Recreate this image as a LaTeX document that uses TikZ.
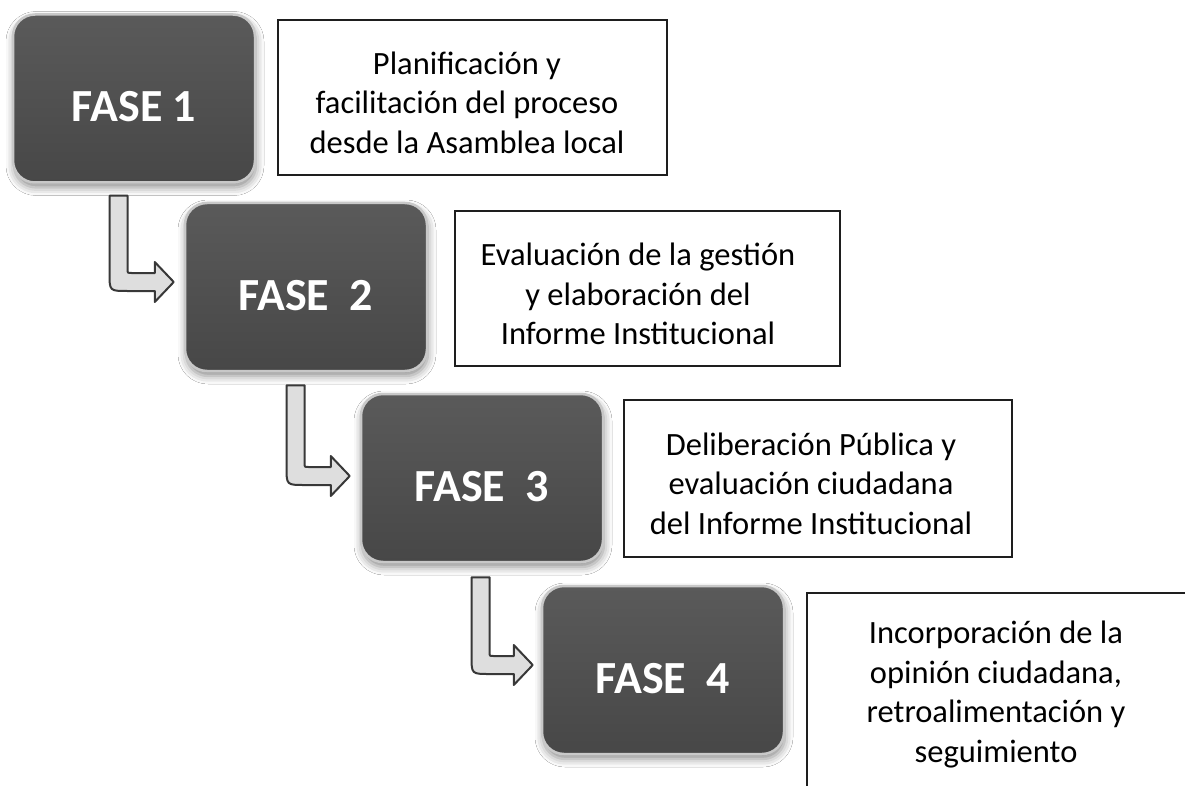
\documentclass[tikz,border=0pt]{standalone}
\usepackage{fontspec}
\setmainfont{Carlito}
\usetikzlibrary{calc,shadows.blur}
\definecolor{fasetop}{HTML}{5A5A5A}
\definecolor{fasebot}{HTML}{474747}
\definecolor{faseedge}{HTML}{C8C8C8}
\definecolor{boxline}{HTML}{1E1E1E}
\definecolor{arrline}{HTML}{383838}
\definecolor{arrfill}{HTML}{DEDEDE}
\newcommand\phasearrow[2]{%
  \path[arrowstyle] let \p1=(#1), \p2=(#2) in
    (\x1-9pt,\y1) -- (\x1-9pt,\y2-9pt+18pt)
    .. controls (\x1-9pt,\y2-9pt) .. (\x1+9pt,\y2-9pt)
    -- (\x2-19pt,\y2-9pt) -- (\x2-19pt,\y2-20pt) -- (\x2,\y2)
    -- (\x2-19pt,\y2+20pt) -- (\x2-19pt,\y2+9pt)
    -- (\x1+13pt,\y2+9pt)
    .. controls (\x1+9pt,\y2+9pt) .. (\x1+9pt,\y2+13pt)
    -- (\x1+9pt,\y1) -- cycle;}
\begin{document}
\begin{tikzpicture}[x=1pt,y=-1pt,
  fase/.style={rounded corners=22pt, minimum width=242pt, minimum height=168pt,
    draw=faseedge, line width=2.5pt, top color=fasetop, bottom color=fasebot,
    text=white, font=\fontsize{46}{52}\selectfont\bfseries,
    text height=47pt, text depth=0pt,
    blur shadow={shadow xshift=1pt, shadow yshift=-5pt, shadow blur radius=8pt, shadow opacity=45}},
  infobox/.style={draw=boxline, line width=1.6pt, fill=white, inner sep=0pt},
  infotext/.style={align=center, font=\fontsize{32.5}{39.5}\selectfont, text=black, inner sep=0pt},
  arrowstyle/.style={draw=arrline, fill=arrfill, line width=2pt, line join=round}]
\useasboundingbox (0,0) rectangle (1185,786);
\fill[white] (0,0) rectangle (1185,786);

% info boxes
\node[infobox, minimum width=389pt, minimum height=155pt] (t1) at (472.5,97.5) {};
\node[infobox, minimum width=385pt, minimum height=155pt] (t2) at (647.5,288.5) {};
\node[infobox, minimum width=388pt, minimum height=157pt] (t3) at (818,478.5) {};
\begin{scope}
  \clip (0,0) rectangle (1185,786);
  \node[infobox, minimum width=398pt, minimum height=212pt] (t4) at (1006,699) {};
\end{scope}

\node[infotext] (l1) at (467,106) {\strut Planificación y\\ facilitación del proceso\\ desde la Asamblea local\strut};
\node[infotext] (l2) at (638,297.5) {\strut Evaluación de la gestión\\ y elaboración del\\ Informe Institucional\strut};
\node[infotext] (l3) at (811,487) {\strut Deliberación Pública y\\ evaluación ciudadana\\ del Informe Institucional\strut};
\node[infotext] (l4) at (996,695) {\strut Incorporación de la\\ opinión ciudadana,\\ retroalimentación y\\ seguimiento\strut};

% phase boxes
\node[fase] (f1) at (134,98.5) {FASE 1};
\node[fase] (f2) at (306,287) {FASE\hspace{0.45em}2};
\node[fase] (f3) at (482,478) {FASE\hspace{0.45em}3};
\node[fase] (f4) at (663,670) {FASE\hspace{0.45em}4};

% arrows
\coordinate (a1s) at ($(f1.south)+(-15.5,12)$);
\coordinate (a1t) at ($(f2.west)+(-10,-5)$);
\coordinate (a2s) at ($(f2.south)+(-10.5,13)$);
\coordinate (a2t) at ($(f3.west)+(-10,-2)$);
\coordinate (a3s) at ($(f3.south)+(-1.5,14)$);
\coordinate (a3t) at ($(f4.west)+(-8,-5)$);
\phasearrow{a1s}{a1t}
\phasearrow{a2s}{a2t}
\phasearrow{a3s}{a3t}
\end{tikzpicture}
\end{document}
